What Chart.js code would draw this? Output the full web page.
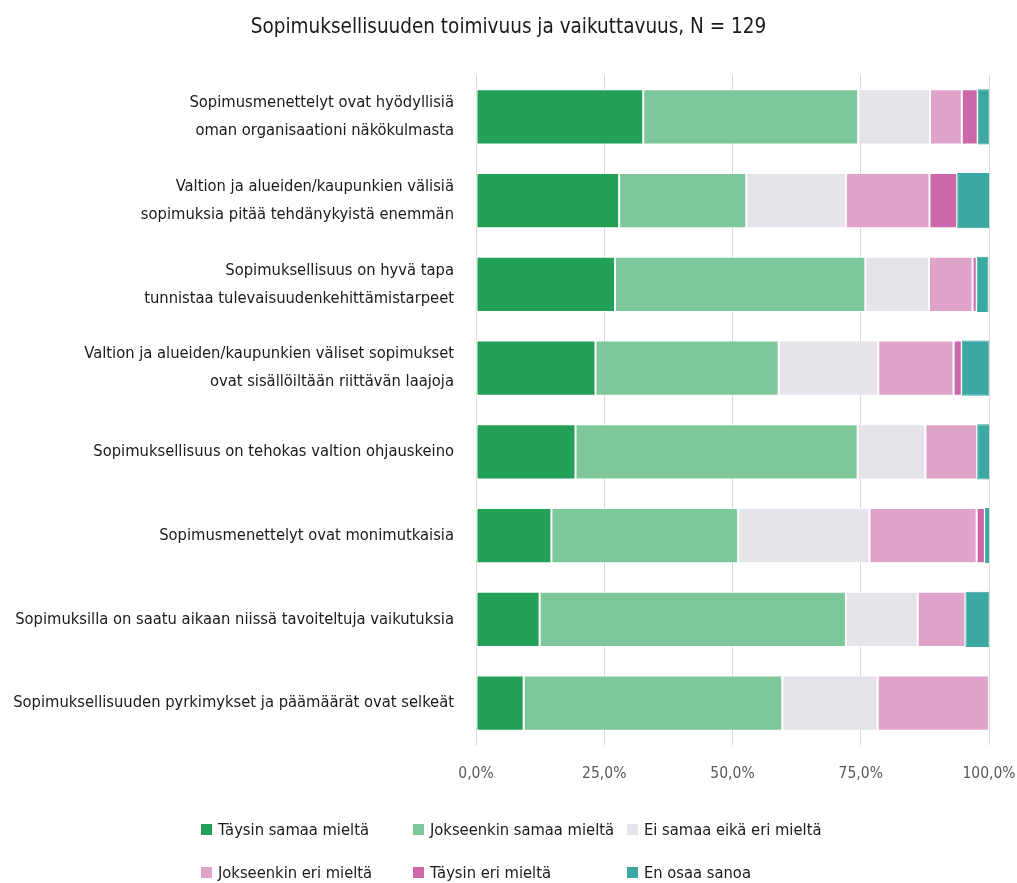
<!DOCTYPE html>
<html>
<head>
<meta charset="utf-8">
<script src="https://cdn.jsdelivr.net/npm/chart.js@4.4.1/dist/chart.umd.min.js"></script>
<style>
  html, body { margin: 0; padding: 0; background: #ffffff; }
  #wrap { position: relative; width: 1017px; height: 883px; }
  #chart { position: absolute; left: 0; top: 0; }
  .leg { position: absolute; font-family: "DejaVu Sans Condensed", "Liberation Sans Narrow", sans-serif; font-size: 16.4px; color: #1a1a1a; white-space: nowrap; display: flex; align-items: center; }
  .leg i { display: inline-block; width: 11px; height: 11px; margin-right: 6px; }
</style>
</head>
<body>
<div id="wrap">
  <canvas id="chart" width="1017" height="883"></canvas>
  <div id="legend"></div>
</div>
<script>
const title = "Sopimuksellisuuden toimivuus ja vaikuttavuus, N = 129";

const categories = [
  ["Sopimusmenettelyt ovat hyödyllisiä", "oman organisaationi näkökulmasta"],
  ["Valtion ja alueiden/kaupunkien välisiä", "sopimuksia pitää tehdänykyistä enemmän"],
  ["Sopimuksellisuus on hyvä tapa", "tunnistaa tulevaisuudenkehittämistarpeet"],
  ["Valtion ja alueiden/kaupunkien väliset sopimukset", "ovat sisällöiltään riittävän laajoja"],
  "Sopimuksellisuus on tehokas valtion ohjauskeino",
  "Sopimusmenettelyt ovat monimutkaisia",
  "Sopimuksilla on saatu aikaan niissä tavoiteltuja vaikutuksia",
  "Sopimuksellisuuden pyrkimykset ja päämäärät ovat selkeät"
];

const seriesLabels = [
  "Täysin samaa mieltä",
  "Jokseenkin samaa mieltä",
  "Ei samaa eikä eri mieltä",
  "Jokseenkin eri mieltä",
  "Täysin eri mieltä",
  "En osaa sanoa"
];

const taysinSamaa     = [32.6, 27.9, 27.1, 23.3, 19.4, 14.7, 12.4, 9.3];
const jokseenkinSamaa = [41.9, 24.8, 48.8, 35.7, 55.0, 36.4, 59.7, 50.4];
const eiSamaaEikaEri  = [14.0, 19.4, 12.4, 19.4, 13.2, 25.6, 14.0, 18.6];
const jokseenkinEri   = [6.2, 16.3, 8.5, 14.7, 10.1, 20.9, 9.3, 21.7];
const taysinEri       = [3.1, 5.4, 0.8, 1.6, 0, 1.6, 0, 0];
const enOsaa          = [2.3, 6.2, 2.3, 5.4, 2.3, 0.8, 4.7, 0];

const tickValues = [0, 25, 50, 75, 100];

const seriesData = [taysinSamaa, jokseenkinSamaa, eiSamaaEikaEri, jokseenkinEri, taysinEri, enOsaa];
const colors = ["#23a057", "#7dc79a", "#e6e3eb", "#e0a4cb", "#cc67a8", "#3ca8a2"];
const borderColors = ["#ffffff", "#ffffff", "#ffffff", "#ffffff", "#ffffff", "#3ca8a2"];

const FONT = "'DejaVu Sans Condensed', 'Liberation Sans Narrow', sans-serif";

const datasets = seriesData.map((d, i) => ({
  label: seriesLabels[i],
  data: d,
  backgroundColor: colors[i],
  borderColor: borderColors[i],
  borderWidth: 1,
  borderSkipped: false,
  barPercentage: 0.66,
  categoryPercentage: 1.0
}));

new Chart(document.getElementById("chart"), {
  type: "bar",
  data: { labels: categories, datasets },
  options: {
    responsive: false,
    animation: false,
    indexAxis: "y",
    layout: { padding: { left: 0, right: 0, top: 0, bottom: 98 } },
    plugins: {
      legend: { display: false },
      tooltip: { enabled: false },
      title: {
        display: true,
        text: title,
        color: "#1a1a1a",
        font: { family: FONT, size: 20.5, weight: "normal" },
        padding: { top: 15, bottom: 35.4 }
      }
    },
    scales: {
      x: {
        stacked: true,
        min: 0,
        max: 100,
        afterBuildTicks: (s) => { s.ticks = tickValues.map(v => ({ value: v })); },
        afterFit: (s) => { s.height = 40; s.paddingLeft = 0; s.paddingRight = 28; },
        ticks: {
          color: "#595959",
          font: { family: FONT, size: 15.5 },
          padding: 20,
          callback: (v) => v.toFixed(1).replace(".", ",") + "%"
        },
        grid: { color: "#d9d9d9", lineWidth: 1, drawTicks: false },
        border: { display: false }
      },
      y: {
        stacked: true,
        afterFit: (s) => { s.width = 476; s.paddingTop = 0; s.paddingBottom = 0; },
        ticks: {
          color: "#1a1a1a",
          font: { family: FONT, size: 16.4, lineHeight: 1.7 },
          padding: 22
        },
        grid: { display: false, drawTicks: false },
        border: { display: true, color: "#d9d9d9", width: 1 }
      }
    }
  }
});

// HTML legend built from series labels and colours
const legendPos = [
  [201, 829], [413, 829], [627, 829],
  [201, 872], [413, 872], [627, 872]
];
const legendEl = document.getElementById("legend");
seriesLabels.forEach((lab, i) => {
  const d = document.createElement("div");
  d.className = "leg";
  d.style.left = legendPos[i][0] + "px";
  d.style.top = (legendPos[i][1] - 11) + "px";
  d.style.height = "22px";
  const b = document.createElement("i");
  b.style.background = colors[i];
  d.appendChild(b);
  d.appendChild(document.createTextNode(lab));
  legendEl.appendChild(d);
});
</script>
</body>
</html>
